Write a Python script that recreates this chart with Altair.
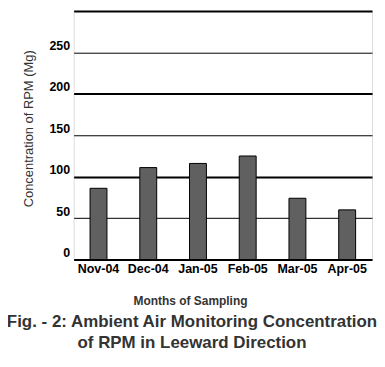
import altair as alt
import pandas as pd

months = ["Nov-04", "Dec-04", "Jan-05", "Feb-05", "Mar-05", "Apr-05"]
rpm = [86, 111, 116, 125, 74, 60]
y_values = [0, 50, 100, 150, 200, 250, 300]
caption = ["Fig. - 2: Ambient Air Monitoring Concentration", "of RPM in Leeward Direction"]

df = pd.DataFrame({"month": months, "rpm": rpm})

sans = "Liberation Sans, Arial, sans-serif"

chart = alt.Chart(df).mark_bar(
    color="#606060", stroke="#000000", strokeWidth=1, width=17
).encode(
    x=alt.X(
        "month:N", sort=months,
        scale=alt.Scale(paddingInner=0, paddingOuter=0),
        axis=alt.Axis(
            title="Months of Sampling", labelAngle=0, ticks=False, domain=False,
            labelFont=sans, labelFontSize=12.5, labelFontWeight="bold",
            labelColor="#000000", labelPadding=3,
            titleFont=sans, titleFontSize=12, titleFontWeight="bold",
            titleColor="#333333", titleX=117, titleY=36,
            titleBaseline="top", titleAlign="center",
        ),
    ),
    y=alt.Y(
        "rpm:Q",
        scale=alt.Scale(domain=[0, 300], nice=False),
        axis=alt.Axis(
            values=y_values, grid=True, gridColor="#000000",
            gridWidth={"condition": {"test": "datum.value % 100 === 0", "value": 2}, "value": 1},
            gridOpacity=1, ticks=False, domain=False,
            labelExpr="datum.value == 300 ? '' : datum.label",
            labelFont=sans, labelFontSize=12.5, labelFontWeight="bold",
            labelColor="#000000", labelPadding=4, labelOffset=-7,
            title="Concentration of RPM (Mg)",
            titleFont=sans, titleFontSize=13, titleFontWeight="normal",
            titleColor="#333333", titleX=-45, titleY=118, titleAngle=-90,
            titleAlign="center", titleBaseline="middle",
        ),
    ),
).properties(
    width=300, height=250,
    title=alt.TitleParams(
        text=caption, orient="bottom", anchor="middle", fontSize=17,
        font=sans, fontWeight="bold", color="#333333", offset=8, dx=-31,
        lineHeight=21,
    ),
    autosize=alt.AutoSizeParams(type="none"),
    padding={"left": 66, "top": 2, "right": 5, "bottom": 100},
).configure_view(
    stroke="#000000", strokeWidth=1
).configure(background="white")

chart.save("out.html", embed_options={"renderer": "svg", "actions": False})
